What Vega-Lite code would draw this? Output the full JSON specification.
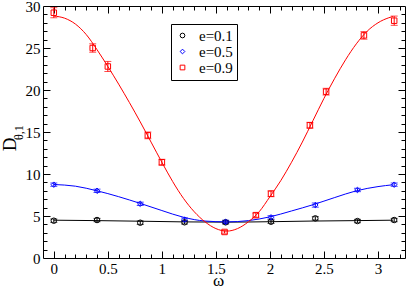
{
  "$schema": "https://vega.github.io/schema/vega-lite/v6.json",
  "width": 362,
  "height": 252,
  "autosize": "none",
  "padding": {"left": 43, "top": 6, "right": 2, "bottom": 30},
  "background": "white",
  "config": {
    "font": "Times New Roman, Liberation Serif, serif",
    "view": {"stroke": "black", "strokeWidth": 1},
    "axis": {"grid": false, "domain": false, "labelColor": "black", "titleColor": "black", "tickColor": "black", "tickWidth": 1, "labelFont": "Times New Roman, Liberation Serif, serif", "titleFont": "Times New Roman, Liberation Serif, serif", "titleFontWeight": "normal"},
    "legend": {"labelFont": "Times New Roman, Liberation Serif, serif"}
  },
  "datasets": {
    "pts": [
      {"e": "e=0.1", "w": 0, "v": 4.44, "lo": 4.24, "hi": 4.64},
      {"e": "e=0.1", "w": 0.4, "v": 4.52, "lo": 4.32, "hi": 4.72},
      {"e": "e=0.1", "w": 0.8, "v": 4.2, "lo": 4.0, "hi": 4.4},
      {"e": "e=0.1", "w": 1.21, "v": 4.25, "lo": 4.05, "hi": 4.45},
      {"e": "e=0.1", "w": 1.59, "v": 4.25, "lo": 4.05, "hi": 4.45},
      {"e": "e=0.1", "w": 2.01, "v": 4.32, "lo": 4.12, "hi": 4.52},
      {"e": "e=0.1", "w": 2.42, "v": 4.72, "lo": 4.52, "hi": 4.92},
      {"e": "e=0.1", "w": 2.81, "v": 4.4, "lo": 4.2, "hi": 4.6},
      {"e": "e=0.1", "w": 3.15, "v": 4.52, "lo": 4.32, "hi": 4.72},
      {"e": "e=0.5", "w": 0, "v": 8.73, "lo": 8.53, "hi": 8.93},
      {"e": "e=0.5", "w": 0.4, "v": 8.0, "lo": 7.8, "hi": 8.2},
      {"e": "e=0.5", "w": 0.8, "v": 6.45, "lo": 6.25, "hi": 6.65},
      {"e": "e=0.5", "w": 1.21, "v": 4.56, "lo": 4.36, "hi": 4.76},
      {"e": "e=0.5", "w": 1.59, "v": 4.3, "lo": 4.1, "hi": 4.5},
      {"e": "e=0.5", "w": 2.01, "v": 4.84, "lo": 4.64, "hi": 5.04},
      {"e": "e=0.5", "w": 2.42, "v": 6.3, "lo": 6.05, "hi": 6.55},
      {"e": "e=0.5", "w": 2.81, "v": 8.1, "lo": 7.9, "hi": 8.3},
      {"e": "e=0.5", "w": 3.15, "v": 8.73, "lo": 8.53, "hi": 8.93},
      {"e": "e=0.9", "w": 0, "v": 29.2, "lo": 28.6, "hi": 29.8},
      {"e": "e=0.9", "w": 0.36, "v": 25.0, "lo": 24.5, "hi": 25.5},
      {"e": "e=0.9", "w": 0.5, "v": 22.8, "lo": 22.2, "hi": 23.4},
      {"e": "e=0.9", "w": 0.87, "v": 14.6, "lo": 14.2, "hi": 15.0},
      {"e": "e=0.9", "w": 1.0, "v": 11.4, "lo": 11.05, "hi": 11.75},
      {"e": "e=0.9", "w": 1.58, "v": 3.1, "lo": 2.95, "hi": 3.25},
      {"e": "e=0.9", "w": 1.87, "v": 5.1, "lo": 4.85, "hi": 5.35},
      {"e": "e=0.9", "w": 2.01, "v": 7.65, "lo": 7.3, "hi": 8.0},
      {"e": "e=0.9", "w": 2.37, "v": 15.8, "lo": 15.45, "hi": 16.15},
      {"e": "e=0.9", "w": 2.52, "v": 19.8, "lo": 19.4, "hi": 20.2},
      {"e": "e=0.9", "w": 2.87, "v": 26.5, "lo": 26.05, "hi": 26.95},
      {"e": "e=0.9", "w": 3.15, "v": 28.25, "lo": 27.7, "hi": 28.8}
    ],
    "curves": [
      {"e": "e=0.1", "w": 0, "v": 4.5},
      {"e": "e=0.1", "w": 0.4, "v": 4.45},
      {"e": "e=0.1", "w": 0.8, "v": 4.38},
      {"e": "e=0.1", "w": 1.2, "v": 4.3},
      {"e": "e=0.1", "w": 1.6, "v": 4.27},
      {"e": "e=0.1", "w": 2.0, "v": 4.32},
      {"e": "e=0.1", "w": 2.4, "v": 4.4},
      {"e": "e=0.1", "w": 2.8, "v": 4.45},
      {"e": "e=0.1", "w": 3.14, "v": 4.5},
      {"e": "e=0.5", "w": 0, "v": 8.75},
      {"e": "e=0.5", "w": 0.2, "v": 8.55},
      {"e": "e=0.5", "w": 0.4, "v": 8.0},
      {"e": "e=0.5", "w": 0.6, "v": 7.3},
      {"e": "e=0.5", "w": 0.8, "v": 6.5},
      {"e": "e=0.5", "w": 1.0, "v": 5.65},
      {"e": "e=0.5", "w": 1.2, "v": 4.85},
      {"e": "e=0.5", "w": 1.4, "v": 4.4},
      {"e": "e=0.5", "w": 1.6, "v": 4.3},
      {"e": "e=0.5", "w": 1.8, "v": 4.45},
      {"e": "e=0.5", "w": 2.0, "v": 4.9},
      {"e": "e=0.5", "w": 2.2, "v": 5.6},
      {"e": "e=0.5", "w": 2.4, "v": 6.35},
      {"e": "e=0.5", "w": 2.6, "v": 7.2},
      {"e": "e=0.5", "w": 2.8, "v": 8.0},
      {"e": "e=0.5", "w": 3.0, "v": 8.5},
      {"e": "e=0.5", "w": 3.14, "v": 8.72},
      {"e": "e=0.9", "w": 0, "v": 28.8},
      {"e": "e=0.9", "w": 0.1, "v": 28.55},
      {"e": "e=0.9", "w": 0.2, "v": 27.85},
      {"e": "e=0.9", "w": 0.3, "v": 26.6},
      {"e": "e=0.9", "w": 0.4, "v": 24.8},
      {"e": "e=0.9", "w": 0.5, "v": 22.8},
      {"e": "e=0.9", "w": 0.6, "v": 20.7},
      {"e": "e=0.9", "w": 0.7, "v": 18.5},
      {"e": "e=0.9", "w": 0.8, "v": 16.2},
      {"e": "e=0.9", "w": 0.9, "v": 13.8},
      {"e": "e=0.9", "w": 1.0, "v": 11.4},
      {"e": "e=0.9", "w": 1.1, "v": 9.1},
      {"e": "e=0.9", "w": 1.2, "v": 7.1},
      {"e": "e=0.9", "w": 1.3, "v": 5.5},
      {"e": "e=0.9", "w": 1.4, "v": 4.3},
      {"e": "e=0.9", "w": 1.5, "v": 3.5},
      {"e": "e=0.9", "w": 1.6, "v": 3.2},
      {"e": "e=0.9", "w": 1.7, "v": 3.5},
      {"e": "e=0.9", "w": 1.8, "v": 4.3},
      {"e": "e=0.9", "w": 1.9, "v": 5.5},
      {"e": "e=0.9", "w": 2.0, "v": 7.3},
      {"e": "e=0.9", "w": 2.1, "v": 9.2},
      {"e": "e=0.9", "w": 2.2, "v": 11.4},
      {"e": "e=0.9", "w": 2.3, "v": 13.8},
      {"e": "e=0.9", "w": 2.4, "v": 16.4},
      {"e": "e=0.9", "w": 2.5, "v": 19.0},
      {"e": "e=0.9", "w": 2.6, "v": 21.4},
      {"e": "e=0.9", "w": 2.7, "v": 23.6},
      {"e": "e=0.9", "w": 2.8, "v": 25.5},
      {"e": "e=0.9", "w": 2.9, "v": 27.0},
      {"e": "e=0.9", "w": 3.0, "v": 28.0},
      {"e": "e=0.9", "w": 3.1, "v": 28.6},
      {"e": "e=0.9", "w": 3.14, "v": 28.75}
    ]
  },
  "resolve": {"axis": {"x": "independent", "y": "independent"}},
  "layer": [
    {
      "data": {"name": "curves"},
      "mark": {"type": "line", "interpolate": "monotone", "strokeWidth": 1},
      "encoding": {
        "x": {"field": "w", "type": "quantitative", "scale": {"domain": [-0.1, 3.25], "nice": false, "zero": false},
          "axis": {"orient": "bottom", "values": [0, 0.5, 1, 1.5, 2, 2.5, 3], "ticks": false, "format": ".1~f", "labelFontSize": 15, "labelPadding": 3, "labelFlush": false,
            "title": "ω", "titleFontSize": 17, "titleX": 175, "titleY": 27, "titleBaseline": "alphabetic", "titleAlign": "center"}},
        "y": {"field": "v", "type": "quantitative", "scale": {"domain": [0, 30], "nice": false, "zero": false},
          "axis": {"orient": "left", "values": [0, 5, 10, 15, 20, 25, 30], "ticks": false, "labelFontSize": 15, "labelPadding": 3, "labelFlush": false,
            "title": "D", "titleFontSize": 19, "titleAngle": -90, "titleX": -28, "titleY": 138, "titleAlign": "center", "titleBaseline": "alphabetic"}},
        "stroke": {"field": "e", "type": "nominal", "scale": {"range": ["#000000", "#0000ff", "#ff0000"]}, "legend": null}
      }
    },
    {
      "data": {"name": "pts"},
      "mark": {"type": "rule", "strokeWidth": 1},
      "encoding": {
        "x": {"field": "w", "type": "quantitative",
          "axis": {"orient": "bottom", "values": [0, 0.1, 0.2, 0.3, 0.4, 0.5, 0.6, 0.7, 0.8, 0.9, 1, 1.1, 1.2, 1.3, 1.4, 1.5, 1.6, 1.7, 1.8, 1.9, 2, 2.1, 2.2, 2.3, 2.4, 2.5, 2.6, 2.7, 2.8, 2.9, 3, 3.1, 3.2],
            "labels": false, "title": null,
            "tickSize": {"condition": {"test": "abs(datum.value*2 - round(datum.value*2)) < 0.001", "value": -7}, "value": -4}}},
        "y": {"field": "lo", "type": "quantitative",
          "axis": {"orient": "left", "values": [1, 2, 3, 4, 5, 6, 7, 8, 9, 10, 11, 12, 13, 14, 15, 16, 17, 18, 19, 20, 21, 22, 23, 24, 25, 26, 27, 28, 29],
            "labels": false,
            "tickSize": {"condition": {"test": "datum.value % 5 === 0", "value": -7}, "value": -4},
            "title": "θ,1", "titleFontSize": 12, "titleAngle": -90, "titleX": -21, "titleY": 126, "titleAlign": "center", "titleBaseline": "alphabetic"}},
        "y2": {"field": "hi"},
        "stroke": {"field": "e", "type": "nominal", "legend": null}
      }
    },
    {
      "data": {"name": "pts"},
      "mark": {"type": "tick", "orient": "horizontal", "size": 7, "thickness": 1},
      "encoding": {
        "x": {"field": "w", "type": "quantitative",
          "axis": {"orient": "top", "values": [0, 0.1, 0.2, 0.3, 0.4, 0.5, 0.6, 0.7, 0.8, 0.9, 1, 1.1, 1.2, 1.3, 1.4, 1.5, 1.6, 1.7, 1.8, 1.9, 2, 2.1, 2.2, 2.3, 2.4, 2.5, 2.6, 2.7, 2.8, 2.9, 3, 3.1, 3.2],
            "labels": false, "title": null,
            "tickSize": {"condition": {"test": "abs(datum.value*2 - round(datum.value*2)) < 0.001", "value": -7}, "value": -4}}},
        "y": {"field": "lo", "type": "quantitative",
          "axis": {"orient": "right", "values": [1, 2, 3, 4, 5, 6, 7, 8, 9, 10, 11, 12, 13, 14, 15, 16, 17, 18, 19, 20, 21, 22, 23, 24, 25, 26, 27, 28, 29],
            "labels": false, "title": null,
            "tickSize": {"condition": {"test": "datum.value % 5 === 0", "value": -7}, "value": -4}}},
        "fill": {"field": "e", "type": "nominal", "scale": {"range": ["#000000", "#0000ff", "#ff0000"]}, "legend": null}
      }
    },
    {
      "data": {"name": "pts"},
      "mark": {"type": "tick", "orient": "horizontal", "size": 7, "thickness": 1},
      "encoding": {
        "x": {"field": "w", "type": "quantitative", "axis": null},
        "y": {"field": "hi", "type": "quantitative", "axis": null},
        "fill": {"field": "e", "type": "nominal", "legend": null}
      }
    },
    {
      "data": {"name": "pts"},
      "mark": {"type": "point", "filled": false, "size": 30, "strokeWidth": 1, "opacity": 1},
      "encoding": {
        "x": {"field": "w", "type": "quantitative", "axis": null},
        "y": {"field": "v", "type": "quantitative", "axis": null},
        "color": {"field": "e", "type": "nominal", "title": null,
          "scale": {"domain": ["e=0.1", "e=0.5", "e=0.9"], "range": ["#000000", "#0000ff", "#ff0000"]},
          "legend": {"orient": "none", "legendX": 128, "legendY": 18, "title": null, "strokeColor": "black", "fillColor": "white", "padding": 4,
            "labelFontSize": 15, "labelColor": "black", "labelOffset": 9, "rowPadding": -2, "symbolSize": 22, "symbolStrokeWidth": 1}},
        "shape": {"field": "e", "type": "nominal", "title": null, "scale": {"domain": ["e=0.1", "e=0.5", "e=0.9"], "range": ["circle", "diamond", "square"]}}
      }
    }
  ]
}
